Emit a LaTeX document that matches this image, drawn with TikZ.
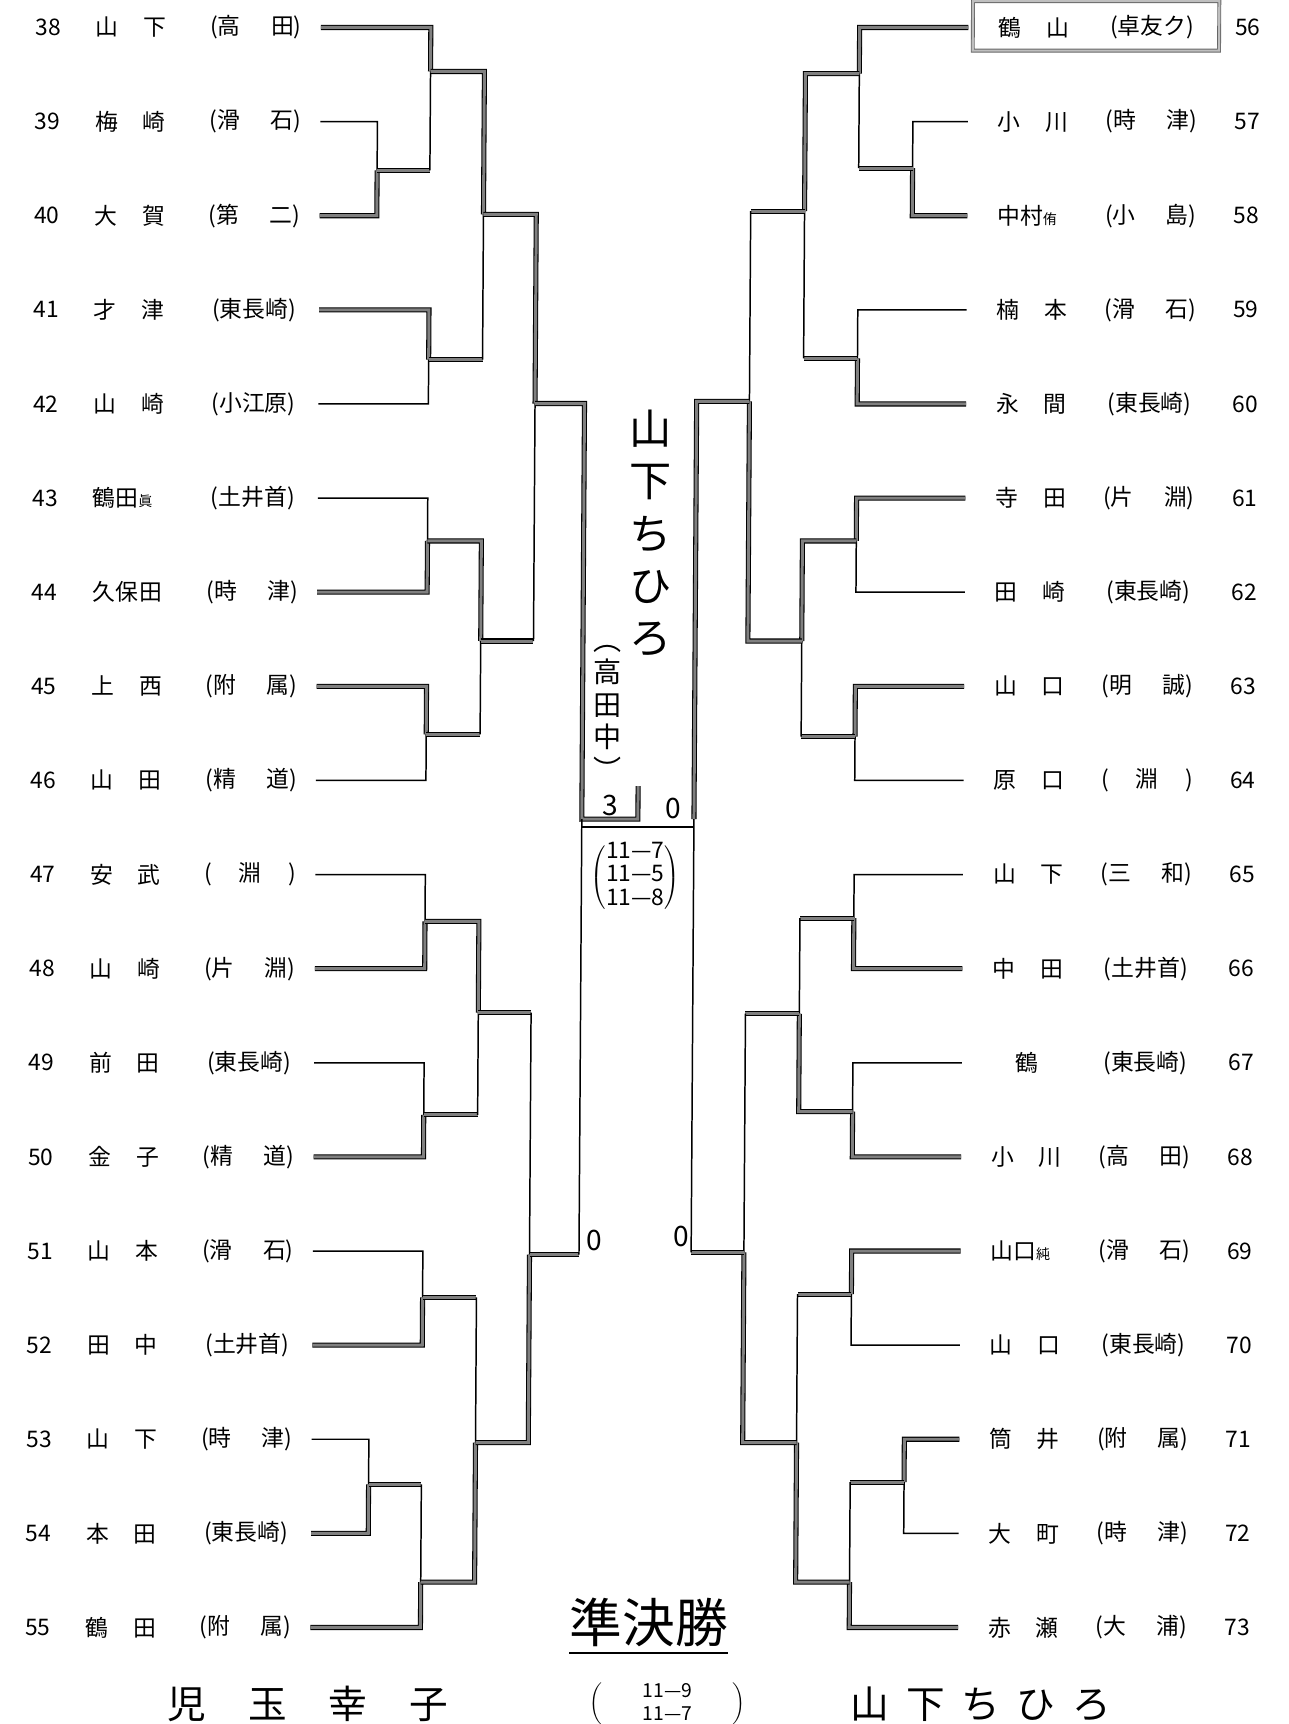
\documentclass[tikz,border=0pt]{standalone}
\usepackage{fontspec}
\setmainfont{Noto Sans CJK JP}
\newlength{\namew}\setlength{\namew}{1.41cm}
\newlength{\schw}\setlength{\schw}{1.83cm}
\newcommand{\twoname}[2]{\makebox[\namew][s]{#1\hfill#2}}
\newcommand{\subname}[2]{\makebox[\namew][l]{#1{\fontsize{8}{8}\selectfont#2}}}
\newcommand{\twosch}[2]{\makebox[\schw][s]{(#1\hfill#2)}}
\newcommand{\onesch}[1]{\makebox[\schw][s]{(\hfill#1\hfill)}}
\newcommand{\fullsch}[1]{\makebox[\schw][c]{(#1)}}
\tikzset{
  lose/.style={line width=0.85pt},
  won/.style={draw=black, line width=0.6pt, double=black!50, double distance=1.7pt},
  boxed/.style={draw=black!60, line width=0.5pt, double=black!25, double distance=1.2pt},
  rowtxt/.style={inner sep=0pt, font=\fontsize{13}{15}\selectfont},
  hand/.style={inner sep=0pt, align=center, font=\fontsize{24}{29.7}\selectfont},
  handsm/.style={inner sep=0pt, align=center, font=\fontsize{16}{18.5}\selectfont},
}
\begin{document}
\begin{tikzpicture}[x=0.022cm, y=-0.022cm]
\useasboundingbox (0,0) rectangle (1172,1568);
\begin{scope}[xslant=0.0065]
% left entries 38-55
\foreach \i/\pn/\ps in {
  38/{\twoname{山}{下}}/{\twosch{高}{田}},
  39/{\twoname{梅}{崎}}/{\twosch{滑}{石}},
  40/{\twoname{大}{賀}}/{\twosch{第}{二}},
  41/{\twoname{才}{津}}/{\fullsch{東長崎}},
  42/{\twoname{山}{崎}}/{\fullsch{小江原}},
  43/{\subname{鶴田}{眞}}/{\fullsch{土井首}},
  44/{\makebox[\namew][s]{久\hfill 保\hfill 田}}/{\twosch{時}{津}},
  45/{\twoname{上}{西}}/{\twosch{附}{属}},
  46/{\twoname{山}{田}}/{\twosch{精}{道}},
  47/{\twoname{安}{武}}/{\onesch{淵}},
  48/{\twoname{山}{崎}}/{\twosch{片}{淵}},
  49/{\twoname{前}{田}}/{\fullsch{東長崎}},
  50/{\twoname{金}{子}}/{\twosch{精}{道}},
  51/{\twoname{山}{本}}/{\twosch{滑}{石}},
  52/{\twoname{田}{中}}/{\fullsch{土井首}},
  53/{\twoname{山}{下}}/{\twosch{時}{津}},
  54/{\twoname{本}{田}}/{\fullsch{東長崎}},
  55/{\twoname{鶴}{田}}/{\twosch{附}{属}}} {
  \pgfmathsetmacro{\ry}{25+85.6*(\i-38)}
  \node[rowtxt] (num\i) at (44,\ry) {\i};
  \node[rowtxt, anchor=west] (name\i) at (87,\ry) {\pn};
  \node[rowtxt, anchor=west] (sch\i) at (191,\ry) {\ps};
  \coordinate (s\i) at (292,\ry);
}
% right entries 56-73
\foreach \i/\pn/\ps in {
  56/{\twoname{鶴}{山}}/{\fullsch{卓友ク}},
  57/{\twoname{小}{川}}/{\twosch{時}{津}},
  58/{\subname{中村}{侑}}/{\twosch{小}{島}},
  59/{\twoname{楠}{本}}/{\twosch{滑}{石}},
  60/{\twoname{永}{間}}/{\fullsch{東長崎}},
  61/{\twoname{寺}{田}}/{\twosch{片}{淵}},
  62/{\twoname{田}{崎}}/{\fullsch{東長崎}},
  63/{\twoname{山}{口}}/{\twosch{明}{誠}},
  64/{\twoname{原}{口}}/{\onesch{淵}},
  65/{\twoname{山}{下}}/{\twosch{三}{和}},
  66/{\twoname{中}{田}}/{\fullsch{土井首}},
  67/{\makebox[\namew][c]{鶴}}/{\fullsch{東長崎}},
  68/{\twoname{小}{川}}/{\twosch{高}{田}},
  69/{\subname{山口}{純}}/{\twosch{滑}{石}},
  70/{\twoname{山}{口}}/{\fullsch{東長崎}},
  71/{\twoname{筒}{井}}/{\twosch{附}{属}},
  72/{\twoname{大}{町}}/{\twosch{時}{津}},
  73/{\twoname{赤}{瀬}}/{\twosch{大}{浦}}} {
  \pgfmathsetmacro{\ry}{25+85.6*(\i-56)}
  \node[rowtxt, anchor=west] (name\i) at (908,\ry) {\pn};
  \node[rowtxt, anchor=west] (sch\i) at (1006,\ry) {\ps};
  \node[rowtxt] (num\i) at (1135,\ry) {\i};
  \coordinate (s\i) at (881,\ry);
}
\draw[boxed] (885,1) rectangle (1109,46);

% junctions, left half
\coordinate (a1) at (344,155);
\coordinate (a2) at (392,65);
\coordinate (a3) at (392,327);
\coordinate (a4) at (441,195);
\coordinate (a5) at (392,492);
\coordinate (a6) at (392,668);
\coordinate (a7) at (441,583);
\coordinate (a8) at (489,367);
\coordinate (b1) at (392,838);
\coordinate (b2) at (392,1014);
\coordinate (b3) at (441,921);
\coordinate (b4) at (392,1180);
\coordinate (b5) at (344,1350);
\coordinate (b6) at (392,1439);
\coordinate (b7) at (441,1312);
\coordinate (b8) at (489,1141);
% junctions, right half
\coordinate (c1) at (831,153);
\coordinate (c2) at (782,67);
\coordinate (c3) at (782,326);
\coordinate (c4) at (733,192);
\coordinate (c5) at (782,492);
\coordinate (c6) at (782,670);
\coordinate (c7) at (733,583);
\coordinate (c8) at (684,365);
\coordinate (d1) at (782,835);
\coordinate (d2) at (782,1011);
\coordinate (d3) at (733,922);
\coordinate (d4) at (782,1177);
\coordinate (d5) at (831,1348);
\coordinate (d6) at (782,1439);
\coordinate (d7) at (733,1312);
\coordinate (d8) at (684,1139);
% final frame
\coordinate (fL) at (534,745);
\coordinate (fR) at (636,745);
\coordinate (dv) at (585,745);
\coordinate (dvt) at (585,715);
\coordinate (gL) at (534,752);
\coordinate (gR) at (636,752);

% top left
\draw[lose] (s39) -| (a1);
\draw[won] (s40) -| (a1);
\draw[won] (s38) -| (a2);
\draw[won] (a1) -- (a1 -| a2); \draw[lose] (a1 -| a2) -- (a2);
\draw[won] (s41) -| (a3);
\draw[lose] (s42) -| (a3);
\draw[won] (a2) -| (a4);
\draw[won] (a3) -- (a3 -| a4); \draw[lose] (a3 -| a4) -- (a4);
\draw[lose] (s43) -| (a5);
\draw[won] (s44) -| (a5);
\draw[won] (s45) -| (a6);
\draw[lose] (s46) -| (a6);
\draw[won] (a5) -| (a7);
\draw[won] (a6) -- (a6 -| a7); \draw[lose] (a6 -| a7) -- (a7);
\draw[won] (a4) -| (a8);
\draw[won] (a7) -- (a7 -| a8); \draw[lose] (a7 -| a8) -- (a8);
\draw[won] (a8) -| (fL) -- (dv) -- (dvt);
% bottom left
\draw[lose] (s47) -| (b1);
\draw[won] (s48) -| (b1);
\draw[lose] (s49) -| (b2);
\draw[won] (s50) -| (b2);
\draw[won] (b1) -| (b3);
\draw[won] (b2) -- (b2 -| b3); \draw[lose] (b2 -| b3) -- (b3);
\draw[lose] (s51) -| (b4);
\draw[won] (s52) -| (b4);
\draw[lose] (s53) -| (b5);
\draw[won] (s54) -| (b5);
\draw[won] (b5) -- (b5 -| b6); \draw[lose] (b5 -| b6) -- (b6);
\draw[won] (s55) -| (b6);
\draw[won] (b4) -- (b4 -| b7); \draw[lose] (b4 -| b7) -- (b7);
\draw[won] (b6) -| (b7);
\draw[won] (b3) -- (b3 -| b8); \draw[lose] (b3 -| b8) -- (b8);
\draw[won] (b7) -| (b8);
\draw[won] (b8) -- (b8 -| fL); \draw[lose] (b8 -| fL) -- (fL);
% top right
\draw[lose] (s57) -| (c1);
\draw[won] (s58) -| (c1);
\draw[won] (s56) -| (c2);
\draw[won] (c1) -- (c1 -| c2); \draw[lose] (c1 -| c2) -- (c2);
\draw[lose] (s59) -| (c3);
\draw[won] (s60) -| (c3);
\draw[won] (c2) -| (c4);
\draw[won] (c3) -- (c3 -| c4); \draw[lose] (c3 -| c4) -- (c4);
\draw[won] (s61) -| (c5);
\draw[lose] (s62) -| (c5);
\draw[won] (s63) -| (c6);
\draw[lose] (s64) -| (c6);
\draw[won] (c5) -| (c7);
\draw[won] (c6) -- (c6 -| c7); \draw[lose] (c6 -| c7) -- (c7);
\draw[won] (c4) -- (c4 -| c8); \draw[lose] (c4 -| c8) -- (c8);
\draw[won] (c7) -| (c8);
\draw[won] (c8) -| (fR);
% bottom right
\draw[lose] (s65) -| (d1);
\draw[won] (s66) -| (d1);
\draw[lose] (s67) -| (d2);
\draw[won] (s68) -| (d2);
\draw[won] (d1) -- (d1 -| d3); \draw[lose] (d1 -| d3) -- (d3);
\draw[won] (d2) -| (d3);
\draw[won] (s69) -| (d4);
\draw[lose] (s70) -| (d4);
\draw[won] (s71) -| (d5);
\draw[lose] (s72) -| (d5);
\draw[won] (d5) -- (d5 -| d6); \draw[lose] (d5 -| d6) -- (d6);
\draw[won] (s73) -| (d6);
\draw[won] (d4) -- (d4 -| d7); \draw[lose] (d4 -| d7) -- (d7);
\draw[won] (d6) -| (d7);
\draw[won] (d3) -- (d3 -| d8); \draw[lose] (d3 -| d8) -- (d8);
\draw[won] (d7) -| (d8);
\draw[won] (d8) -- (d8 -| fR); \draw[lose] (d8 -| fR) -- (fR);
\draw[lose] (gL) -- (gR);

% champion and scores
\node[hand] (champ) at (595,485) {山\\下\\ち\\ひ\\ろ};
\node[handsm] (champsch) at (557,648) {︵\\高\\田\\中\\︶};
\node[handsm] (pt3) at (560,733) {3};
\node[handsm] (pt0) at (617,735) {0};
\node[inner sep=0pt, font=\fontsize{13}{13}\selectfont] (finalsc) at (583,798)
  {$\left(\begin{tabular}{@{}c@{}}11—7\\11—5\\11—8\end{tabular}\right)$};
\node[handsm] (zeroL) at (548,1128) {0};
\node[handsm] (zeroR) at (627,1125) {0};
\end{scope}

% semifinal note
\node[inner sep=0pt, font=\fontsize{30}{30}\selectfont] (semi) at (590,1476) {準決勝};
\draw[lose] ([yshift=-3pt]semi.south west) -- ([yshift=-3pt]semi.south east);
\node[inner sep=0pt, font=\fontsize{22}{22}\selectfont] (sfa) at (280,1550)
  {\makebox[5.6cm][s]{児\hfill 玉\hfill 幸\hfill 子}};
\node[inner sep=0pt, font=\fontsize{11}{13}\selectfont] (sfsc) at (607,1550)
  {$\left(\hspace{0.8cm}\begin{tabular}{@{}c@{}}11—9\\11—7\end{tabular}\hspace{0.8cm}\right)$};
\node[inner sep=0pt, font=\fontsize{22}{22}\selectfont] (sfb) at (892,1550)
  {\makebox[5.2cm][s]{山\hfill 下\hfill ち\hfill ひ\hfill ろ}};
\end{tikzpicture}
\end{document}
